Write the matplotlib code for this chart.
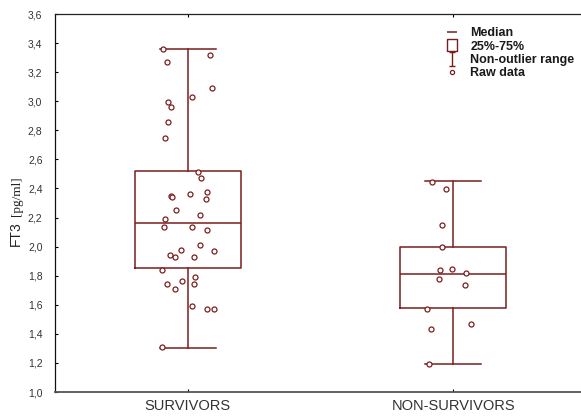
import matplotlib
matplotlib.use("Agg")
import matplotlib.pyplot as plt
from matplotlib.lines import Line2D
from matplotlib.path import Path
import numpy as np

plt.rcParams['font.family'] = ['Liberation Sans', 'DejaVu Sans']

categories = ["SURVIVORS", "NON-SURVIVORS"]
medians = [2.16, 1.81]
q1 = [1.85, 1.58]
q3 = [2.52, 2.00]
whis_lo = [1.30, 1.19]
whis_hi = [3.36, 2.45]

surv_vals = [3.357, 3.268, 3.315, 3.093, 3.027, 2.995, 2.962, 2.855, 2.747, 2.515,
             2.474, 2.346, 2.338, 2.359, 2.375, 2.325, 2.252, 2.22, 2.187, 2.137,
             2.137, 2.111, 2.013, 1.979, 1.972, 1.94, 1.93, 1.93, 1.839, 1.791,
             1.765, 1.74, 1.74, 1.706, 1.591, 1.571, 1.571, 1.31]
surv_jit = [-0.094, -0.080, 0.082, 0.091, 0.015, -0.075, -0.062, -0.075, -0.084, 0.037,
            0.050, -0.062, -0.060, 0.010, 0.074, 0.069, -0.043, 0.045, -0.084, -0.091,
            0.015, 0.074, 0.045, -0.026, 0.097, -0.067, -0.048, 0.024, -0.098, 0.029,
            -0.022, -0.080, 0.024, -0.048, 0.015, 0.073, 0.097, -0.098]
nons_vals = [2.446, 2.394, 2.146, 1.995, 1.839, 1.848, 1.816, 1.775, 1.734, 1.569,
             1.47, 1.431, 1.193]
nons_jit = [-0.080, -0.026, -0.043, -0.043, -0.049, -0.006, 0.049, -0.052, 0.043, -0.098,
            0.065, -0.083, -0.093]

yticks = [1.0, 1.2, 1.4, 1.6, 1.8, 2.0, 2.2, 2.4, 2.6, 2.8, 3.0, 3.2, 3.4, 3.6]
ytick_labels = [f"{v:.1f}".replace(".", ",") for v in yticks]

C = '#7a1e1e'

fig = plt.figure(figsize=(5.81, 4.16), dpi=100)
ax = fig.add_axes([55/581, 24/416, (586-55)/581, 378/416])

stats = []
for i in range(len(categories)):
    stats.append(dict(med=medians[i], q1=q1[i], q3=q3[i], whislo=whis_lo[i],
                      whishi=whis_hi[i], fliers=[]))
lw = 1.1
ax.bxp(stats, positions=range(len(categories)), widths=0.4, capwidths=0.21,
       showfliers=False,
       boxprops=dict(color=C, linewidth=lw),
       medianprops=dict(color=C, linewidth=lw),
       whiskerprops=dict(color=C, linewidth=lw),
       capprops=dict(color=C, linewidth=lw))

for i, (vals, jit) in enumerate([(surv_vals, surv_jit), (nons_vals, nons_jit)]):
    xs = np.array(jit) + i
    ax.plot(xs, vals, linestyle='none', marker='o', markersize=3.6,
            markerfacecolor='white', markeredgecolor=C, markeredgewidth=0.9, zorder=5)

ax.set_xlim(-0.5, 1.5)
ax.set_ylim(1.0, 3.6)
ax.set_yticks(yticks)
ax.set_yticklabels(ytick_labels)
ax.set_xticks(range(len(categories)))
ax.set_xticklabels(categories)
ax.tick_params(axis='y', direction='in', length=2.5, width=0.8, labelsize=7.5,
               labelcolor='#333333', pad=9, left=True, right=False)
ax.tick_params(axis='x', direction='in', length=2.5, width=0.8, labelsize=10.5,
               labelcolor='#333333', pad=5, top=True, bottom=True)
ax.spines['right'].set_visible(False)
ax.spines['top'].set_color('#222222')
ax.spines['left'].set_color('#111111')
ax.spines['bottom'].set_color('#555555')
ax.spines['bottom'].set_linewidth(1.3)
for s in ['top', 'left']:
    ax.spines[s].set_linewidth(0.9)

# y label: sans "FT3" + serif "[pg/ml]"
fig.text(16/581, 1 - 234/416, "FT3", rotation=90, ha='center', va='center',
         fontsize=10, color='#222222')
fig.text(17/581, 1 - 196/416, "[pg/ml]", rotation=90, ha='center', va='center',
         fontsize=9.5, color='#222222', family='Liberation Serif')

# legend
ipath = Path([(-0.5, 1), (0.5, 1), (0, 1), (0, -1), (-0.5, -1), (0.5, -1)],
             [Path.MOVETO, Path.LINETO, Path.MOVETO, Path.LINETO, Path.MOVETO, Path.LINETO])
rpath = Path([(-0.38, -0.5), (0.38, -0.5), (0.38, 0.5), (-0.38, 0.5), (-0.38, -0.5)],
             [Path.MOVETO, Path.LINETO, Path.LINETO, Path.LINETO, Path.CLOSEPOLY])
handles = [
    Line2D([], [], linestyle='none', marker='_', markersize=7, markeredgecolor=C, markeredgewidth=1.1),
    Line2D([], [], linestyle='none', marker=rpath, markersize=9, markerfacecolor='white',
           markeredgecolor=C, markeredgewidth=1.0),
    Line2D([], [], linestyle='none', marker=ipath, markersize=10, markeredgecolor=C,
           markerfacecolor='none', markeredgewidth=1.0),
    Line2D([], [], linestyle='none', marker='o', markersize=3, markerfacecolor='white',
           markeredgecolor=C, markeredgewidth=0.9),
]
labels = ["Median", "25%-75%", "Non-outlier range", "Raw data"]
leg = ax.legend(handles, labels, loc='upper left', bbox_to_anchor=(446/581, 1 - 27/416),
                bbox_transform=fig.transFigure,
                frameon=False, prop=dict(size=9, weight='bold'), handlelength=1.0,
                handletextpad=0.95, labelspacing=0.12, borderaxespad=0, borderpad=0)
for t in leg.get_texts():
    t.set_color('#1a1a1a')

fig.savefig("out.png", dpi=100)
